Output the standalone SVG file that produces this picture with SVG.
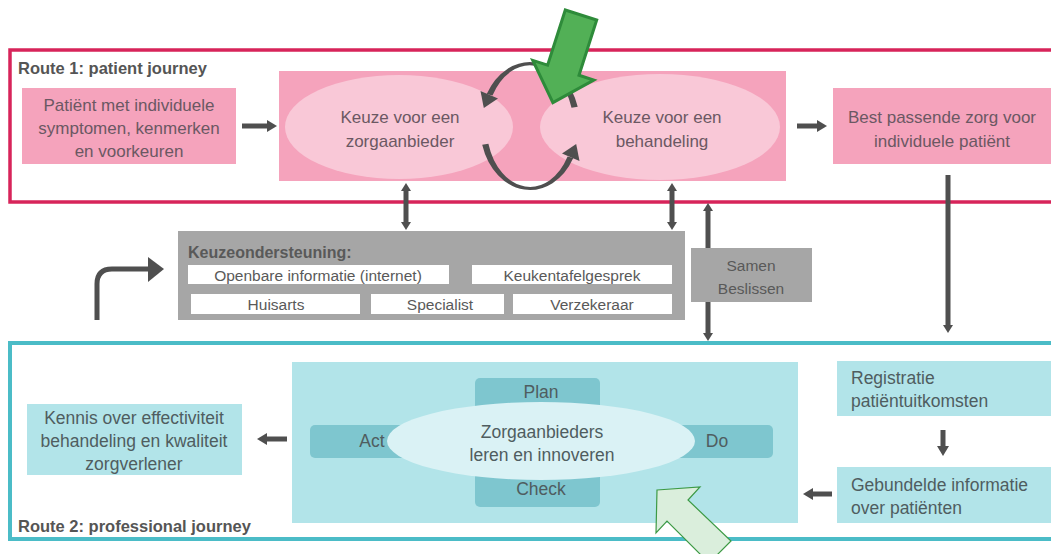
<svg xmlns="http://www.w3.org/2000/svg" width="1051" height="554" viewBox="0 0 1051 554">
<style>
text{font-family:"Liberation Sans",Arial,sans-serif}
.pk{fill:#f5a3bc}
.pkE{fill:#f9c8d7}
.tp{font-size:17px;fill:#6b5863;text-anchor:middle}
.tt{font-size:17.5px;fill:#4f5d60}
.ttm{font-size:17.5px;fill:#4f5d60;text-anchor:middle}
.lbl{font-size:16.5px;font-weight:bold;fill:#555}
.gr{fill:#a6a6a6}
.wb{fill:#fff}
.tg{font-size:15.5px;fill:#595959;text-anchor:middle}
.tl{fill:#b2e4e9}
.tld{fill:#7ec6cf}
.con{stroke:#4f4f4f;stroke-width:5;fill:none}
.dk{fill:#4f4f4f}
</style>
<defs>
<marker id="ah" viewBox="0 -6 10 12" refX="0" refY="0" markerWidth="10" markerHeight="12" markerUnits="userSpaceOnUse" orient="auto-start-reverse"><path d="M0,-6 L10,0 L0,6 Z" fill="#4f4f4f"/></marker>
<marker id="ahs" viewBox="0 -5 8 10" refX="0" refY="0" markerWidth="8" markerHeight="10" markerUnits="userSpaceOnUse" orient="auto-start-reverse"><path d="M0,-5 L8,0 L0,5 Z" fill="#4f4f4f"/></marker>
</defs>

<rect width="1051" height="554" fill="#ffffff"/>

<g id="route1">
<rect x="10" y="50" width="1050" height="152" fill="none" stroke="#d7245a" stroke-width="3.5"/>
<text class="lbl" x="18" y="74">Route 1: patient journey</text>
</g>

<g id="route2">
<rect x="10" y="343" width="1050" height="196" fill="none" stroke="#4bbcc7" stroke-width="4"/>
<text class="lbl" x="18" y="532">Route 2: professional journey</text>
</g>

<g id="patient">
<rect class="pk" x="22" y="88" width="214" height="76"/>
<text class="tp" x="129" y="111" font-size="17.8">Patiënt met individuele</text>
<text class="tp" x="129" y="134" font-size="17.8">symptomen, kenmerken</text>
<text class="tp" x="129" y="157" font-size="17.8">en voorkeuren</text>
</g>

<g id="keuze">
<rect class="pk" x="279" y="71" width="507" height="110"/>
<ellipse id="zorgaanbieder" class="pkE" cx="399" cy="127" rx="114" ry="52"/>
<ellipse id="behandeling" class="pkE" cx="660" cy="127" rx="120" ry="53"/>
<text class="tp" x="400" y="123">Keuze voor een</text>
<text class="tp" x="400" y="147">zorgaanbieder</text>
<text class="tp" x="662" y="123">Keuze voor een</text>
<text class="tp" x="662" y="147">behandeling</text>
</g>

<g id="cycle">
<path class="dk" d="M577.7 106.8 A50 64 0 0 0 486.7 94 L492.5 95.5 A43.5 61 0 0 1 571.5 107.7 Z"/>
<path class="dk" d="M498 98.5 L480.5 91 L483.8 108 Z"/>
<path class="dk" d="M482.2 144.7 A50 64 0 0 0 573.3 158 L567.6 156.5 A43.5 61 0 0 1 488.4 143.8 Z"/>
<path class="dk" d="M579.5 161 L562 153.5 L576.2 144 Z"/>
</g>

<g id="best">
<rect class="pk" x="833" y="88" width="220" height="76"/>
<text class="tp" x="942" y="123">Best passende zorg voor</text>
<text class="tp" x="942" y="147">individuele patiënt</text>
</g>

<g id="keuzeondersteuning">
<rect class="gr" x="178" y="231" width="507" height="89"/>
<text x="188" y="258" font-size="16" font-weight="bold" fill="#595959">Keuzeondersteuning:</text>
<rect class="wb" x="188" y="265" width="261" height="19"/>
<text class="tg" x="318" y="281">Openbare informatie (internet)</text>
<rect class="wb" x="472" y="265" width="200" height="19"/>
<text class="tg" x="572" y="281">Keukentafelgesprek</text>
<rect class="wb" x="191" y="294" width="169" height="20"/>
<text class="tg" x="276" y="310">Huisarts</text>
<rect class="wb" x="371" y="294" width="133" height="20"/>
<text class="tg" x="440" y="310">Specialist</text>
<rect class="wb" x="513" y="294" width="159" height="20"/>
<text class="tg" x="592" y="310">Verzekeraar</text>
</g>

<g id="connectors">
<line class="con" x1="242" y1="126" x2="267" y2="126" marker-end="url(#ah)"/>
<line class="con" x1="797" y1="126" x2="817" y2="126" marker-end="url(#ah)"/>
<line class="con" x1="406" y1="191" x2="406" y2="222" marker-start="url(#ahs)" marker-end="url(#ahs)"/>
<line class="con" x1="672" y1="191" x2="672" y2="222" marker-start="url(#ahs)" marker-end="url(#ahs)"/>
<line class="con" x1="708" y1="211" x2="708" y2="333" marker-start="url(#ahs)" marker-end="url(#ahs)"/>
<line class="con" x1="948" y1="175" x2="948" y2="325" marker-end="url(#ahs)"/>
<line class="con" x1="943" y1="430" x2="943" y2="446" stroke-width="6" marker-end="url(#ah)"/>
<line class="con" x1="287" y1="439" x2="267" y2="439" marker-end="url(#ah)"/>
<line class="con" x1="832" y1="494" x2="813" y2="494" marker-end="url(#ah)"/>
<path class="con" d="M97 320 V284 Q97 269 112 269 H149"/>
<path class="dk" d="M148 257 L164 269 L148 282 Z"/>
</g>

<g id="samen">
<rect class="gr" x="691" y="248" width="121" height="54"/>
<text class="tg" x="751" y="271" font-size="17.5">Samen</text>
<text class="tg" x="751" y="294" font-size="17.5">Beslissen</text>
</g>

<g id="kennis">
<rect class="tl" x="27" y="404" width="215" height="71"/>
<text class="ttm" x="134" y="424">Kennis over effectiviteit</text>
<text class="ttm" x="134" y="447">behandeling en kwaliteit</text>
<text class="ttm" x="134" y="470">zorgverlener</text>
</g>

<g id="pdca">
<rect class="tl" x="292" y="362" width="506" height="161"/>
<rect class="tld" x="475" y="378" width="125" height="34" rx="5"/>
<rect class="tld" x="310" y="425" width="140" height="33" rx="5"/>
<rect class="tld" x="630" y="425" width="143" height="33" rx="5"/>
<rect class="tld" x="475" y="472" width="125" height="35" rx="5"/>
<text class="ttm" x="541" y="398" font-size="14.5">Plan</text>
<text class="ttm" x="372" y="447" font-size="14.5">Act</text>
<text class="ttm" x="717" y="447" font-size="14.5">Do</text>
<text class="ttm" x="541" y="495" font-size="14.5">Check</text>
<ellipse cx="541" cy="441" rx="154" ry="39" fill="#daf2f5"/>
<text class="ttm" x="542" y="438">Zorgaanbieders</text>
<text class="ttm" x="542" y="461">leren en innoveren</text>
</g>

<g id="registratie">
<rect class="tl" x="837" y="361" width="216" height="55"/>
<text class="tt" x="851" y="384">Registratie</text>
<text class="tt" x="851" y="407">patiëntuitkomsten</text>
</g>

<g id="gebundelde">
<rect class="tl" x="837" y="467" width="216" height="56"/>
<text class="tt" x="851" y="491">Gebundelde informatie</text>
<text class="tt" x="851" y="514">over patiënten</text>
</g>

<g id="greenArrow">
<path d="M565.3 10 L596.7 20 L579 75.2 L593.8 80 L552.9 102.6 L532.8 60.4 L547.6 65.1 Z" fill="#52b056" stroke="#2e8b3a" stroke-width="3" stroke-linejoin="miter"/>
</g>

<g id="lightGreenArrow">
<path d="M657 490 L700 487 L688 500 L731 541 L709 563 L667 521 L656 533 Z" fill="#daeedc" stroke="#3d9a45" stroke-width="1.2"/>
</g>
</svg>
